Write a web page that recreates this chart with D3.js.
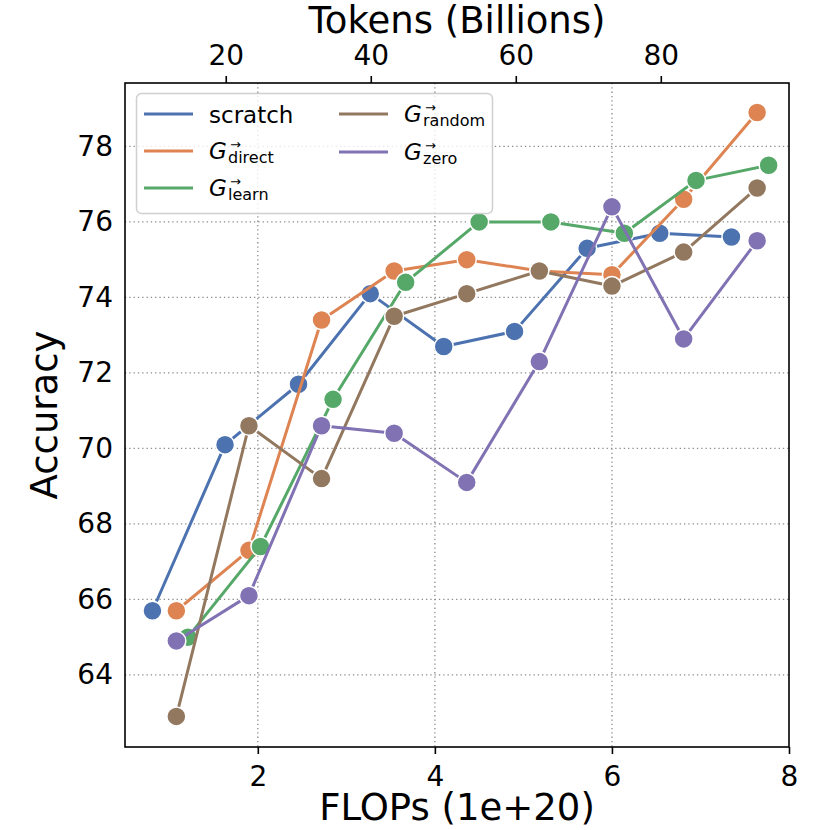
<!DOCTYPE html>
<html>
<head>
<meta charset="utf-8">
<script src="https://cdn.jsdelivr.net/npm/d3@7"></script>
<style>
    body { margin: 0; background: #fff; }
    svg { font-family: "DejaVu Sans", sans-serif; }
</style>
</head>
<body>
<svg id="chart" width="830" height="830"></svg>
<script>
"use strict";

// FLOPs (1e+20) for each run, accuracy per series
const flopsScratch = [0.81, 1.63, 2.46, 3.27, 4.10, 4.90, 5.72, 6.54, 7.35];
const flopsGrown = [1.08, 1.90, 2.72, 3.54, 4.36, 5.18, 6.00, 6.81, 7.64];
const flopsLearn = [1.21, 2.03, 2.85, 3.67, 4.50, 5.31, 6.14, 6.95, 7.77];

const accScratch = [65.7, 70.1, 71.7, 74.1, 72.7, 73.1, 75.3, 75.7, 75.6];
const accDirect = [65.7, 67.3, 73.4, 74.7, 75.0, 74.7, 74.6, 76.6, 78.9];
const accLearn = [65.0, 67.4, 71.3, 74.4, 76.0, 76.0, 75.7, 77.1, 77.5];
const accRandom = [62.9, 70.6, 69.2, 73.5, 74.1, 74.7, 74.3, 75.2, 76.9];
const accZero = [64.9, 66.1, 70.6, 70.4, 69.1, 72.3, 76.4, 72.9, 75.5];

const seriesNames = ["scratch", "direct", "learn", "random", "zero"];
const seriesColors = ["#4C72B0", "#DD8452", "#55A868", "#937860", "#8172B3"];

const xTicks = [2, 4, 6, 8];
const yTicks = [64, 66, 68, 70, 72, 74, 76, 78];
const tokenTicks = [20, 40, 60, 80];
const tokensPerFlop = 12.21; // billions of tokens per 1e20 FLOPs

const series = [
    { name: "scratch", x: flopsScratch, y: accScratch },
    { name: "direct", x: flopsGrown, y: accDirect },
    { name: "learn", x: flopsLearn, y: accLearn },
    { name: "random", x: flopsGrown, y: accRandom },
    { name: "zero", x: flopsGrown, y: accZero },
];

const W = 830, H = 830;
const margin = { left: 125, right: 41, top: 83, bottom: 83 };

const svg = d3.select("#chart");

const x = d3.scaleLinear().domain([0.5, 8]).range([margin.left, W - margin.right]);
const xTop = d3.scaleLinear().domain([0.5 * tokensPerFlop, 8 * tokensPerFlop]).range([margin.left, W - margin.right]);
const y = d3.scaleLinear().domain([62.09, 79.68]).range([H - margin.bottom, margin.top]);

const color = d3.scaleOrdinal().domain(seriesNames).range(seriesColors);

// grid
const grid = svg.append("g")
    .attr("stroke", "#8a8a8a")
    .attr("stroke-width", 1.3)
    .attr("stroke-dasharray", "1.3,3");

grid.selectAll("line.v")
    .data(xTicks.filter(t => t < 8))
    .enter().append("line")
    .attr("x1", d => x(d)).attr("x2", d => x(d))
    .attr("y1", y.range()[1]).attr("y2", y.range()[0]);

grid.selectAll("line.h")
    .data(yTicks)
    .enter().append("line")
    .attr("y1", d => y(d)).attr("y2", d => y(d))
    .attr("x1", x.range()[0]).attr("x2", x.range()[1]);

// series
const line = d3.line().x(d => x(d[0])).y(d => y(d[1]));

for (let s of series) {
    let pts = s.x.map((v, i) => [v, s.y[i]]);
    let g = svg.append("g");
    g.append("path")
        .attr("d", line(pts))
        .attr("fill", "none")
        .attr("stroke", color(s.name))
        .attr("stroke-width", 3)
        .attr("stroke-linejoin", "round");
    g.selectAll("circle")
        .data(pts)
        .enter().append("circle")
        .attr("cx", d => x(d[0]))
        .attr("cy", d => y(d[1]))
        .attr("r", 9.5)
        .attr("fill", color(s.name))
        .attr("stroke", "#fff")
        .attr("stroke-width", 1.5);
}

// axes
function styleAxis(g) {
    g.selectAll(".domain").remove();
    g.selectAll("line").attr("stroke", "#000").attr("stroke-width", 1.6);
    g.selectAll("text").attr("font-size", 28).attr("fill", "#000").attr("font-family", "DejaVu Sans");
}

svg.append("g")
    .attr("transform", `translate(0,${H - margin.bottom})`)
    .call(d3.axisBottom(x).tickValues(xTicks).tickFormat(d3.format("d")).tickSize(7).tickPadding(12))
    .call(styleAxis);

svg.append("g")
    .attr("transform", `translate(0,${margin.top})`)
    .call(d3.axisTop(xTop).tickValues(tokenTicks).tickFormat(d3.format("d")).tickSize(7).tickPadding(11))
    .call(styleAxis);

svg.append("g")
    .attr("transform", `translate(${margin.left},0)`)
    .call(d3.axisLeft(y).tickValues(yTicks).tickFormat(d3.format("d")).tickSize(0).tickPadding(12))
    .call(styleAxis);

// frame
svg.append("rect")
    .attr("x", x.range()[0]).attr("y", y.range()[1])
    .attr("width", x.range()[1] - x.range()[0])
    .attr("height", y.range()[0] - y.range()[1])
    .attr("fill", "none")
    .attr("stroke", "#000")
    .attr("stroke-width", 1.6);

// axis labels
const midX = (x.range()[0] + x.range()[1]) / 2;
svg.append("text")
    .attr("x", midX).attr("y", 820)
    .attr("text-anchor", "middle").attr("font-size", 37)
    .text("FLOPs (1e+20)");

svg.append("text")
    .attr("x", midX).attr("y", 33)
    .attr("text-anchor", "middle").attr("font-size", 37)
    .text("Tokens (Billions)");

svg.append("text")
    .attr("transform", `translate(57,${(y.range()[0] + y.range()[1]) / 2}) rotate(-90)`)
    .attr("text-anchor", "middle").attr("font-size", 37)
    .text("Accuracy");

// legend
const legend = svg.append("g");
legend.append("rect")
    .attr("x", 136.5).attr("y", 93.5)
    .attr("width", 356).attr("height", 120)
    .attr("rx", 5)
    .attr("fill", "#fff").attr("fill-opacity", 0.8)
    .attr("stroke", "#d0d0d0").attr("stroke-width", 1.5);

const legendPos = [
    { x: 144, y: 114 },
    { x: 144, y: 151 },
    { x: 144, y: 188 },
    { x: 339, y: 114 },
    { x: 339, y: 152 },
];

series.forEach((s, i) => {
    let p = legendPos[i];
    let g = legend.append("g").attr("transform", `translate(${p.x},${p.y})`);
    g.append("line")
        .attr("x1", 0).attr("x2", 49)
        .attr("stroke", color(s.name)).attr("stroke-width", 3);
    let tx = 65;
    if (s.name == "scratch") {
        g.append("text").attr("x", tx).attr("y", 8.5).attr("font-size", 23).text("scratch");
    } else {
        // G with a vector arrow at its top right and the subscript below it
        let t = g.append("text").attr("x", tx).attr("y", 7.5).attr("font-size", 23);
        t.append("tspan").attr("font-style", "italic").text("G");
        t.append("tspan").attr("x", tx + 21).attr("dy", -10).attr("font-size", 13).text("→");
        t.append("tspan").attr("x", tx + 19).attr("dy", 14).attr("font-size", 16).text(s.name);
    }
});
</script>
</body>
</html>
